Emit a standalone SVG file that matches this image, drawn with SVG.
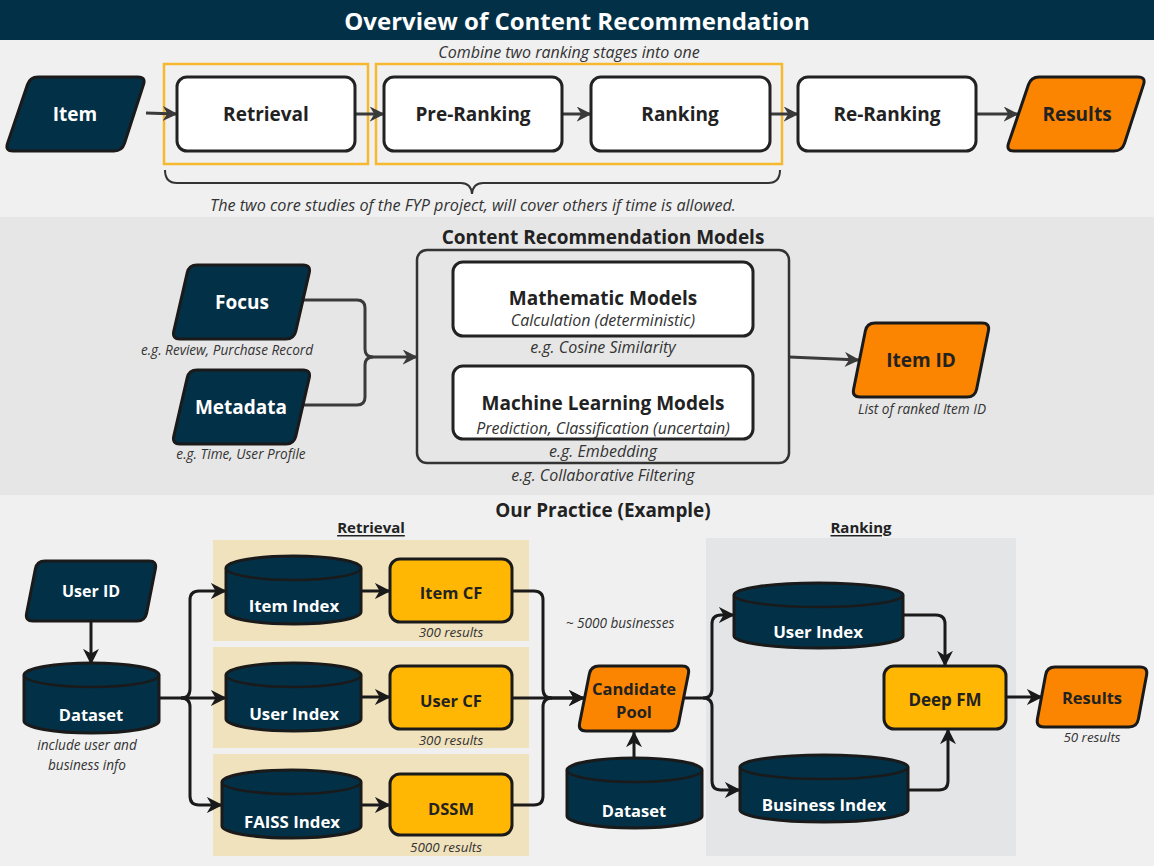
<svg xmlns="http://www.w3.org/2000/svg" width="1154" height="866" viewBox="0 0 1154 866">
<style>
text{font-family:"Open Sans","Liberation Sans",sans-serif;}
.t{font-weight:700;text-anchor:middle;dominant-baseline:central;}
.w{fill:#ffffff;}
.k{fill:#222222;}
.i{font-style:italic;text-anchor:middle;fill:#333333;dominant-baseline:central;}
.dark{fill:#023047;stroke:#1a1a1a;stroke-width:3;stroke-linejoin:round;}
.cyl{fill:#023047;stroke:#1a1a1a;stroke-width:3;stroke-linejoin:round;}
.cylE{fill:none;stroke:#1a1a1a;stroke-width:2.5;}
.org{fill:#fb8500;stroke:#1a1a1a;stroke-width:3;stroke-linejoin:round;}
.yel{fill:#ffb703;stroke:#1a1a1a;stroke-width:3;}
.wht{fill:#ffffff;stroke:#222222;stroke-width:3;}
.c1{fill:none;stroke:#3a3a3a;stroke-width:3;}
.c2{fill:none;stroke:#1a1a1a;stroke-width:3;}
</style>
<defs>
<marker id="a1" viewBox="0 0 10 10" refX="9.5" refY="5" markerWidth="15" markerHeight="15" markerUnits="userSpaceOnUse" orient="auto">
<path d="M0,0 L10,5 L0,10 L3,5 Z" fill="#3a3a3a"/>
</marker>
<marker id="a2" viewBox="0 0 10 10" refX="9.5" refY="5" markerWidth="16" markerHeight="16" markerUnits="userSpaceOnUse" orient="auto">
<path d="M0,0 L10,5 L0,10 L3,5 Z" fill="#1a1a1a"/>
</marker>
</defs>

<!-- backgrounds -->
<rect x="0" y="0" width="1154" height="866" fill="#f0f0f0"/>
<rect x="0" y="217" width="1154" height="278" fill="#e6e6e6"/>
<rect x="0" y="0" width="1154" height="40" fill="#023047"/>
<text x="577" y="20" class="t w" font-size="24">Overview of Content Recommendation</text>

<!-- section 1 annotations -->
<text x="569" y="52" class="i" font-size="16">Combine two ranking stages into one</text>
<rect x="164" y="64" width="204" height="100" fill="none" stroke="#f5b82e" stroke-width="2.5"/>
<rect x="376" y="64" width="406" height="100" fill="none" stroke="#f5b82e" stroke-width="2.5"/>
<path d="M165,170 Q165,183 177,183 L461,183 Q471,183 472,194 Q473,183 483,183 L768,183 Q780,183 780,170" fill="none" stroke="#333333" stroke-width="2"/>
<text x="473" y="205" class="i" font-size="16.2">The two core studies of the FYP project, will cover others if time is allowed.</text>

<!-- section 2 headings -->
<text x="603" y="237" class="t k" font-size="19">Content Recommendation Models</text>

<!-- section 3 headings and panels -->
<text x="603" y="510" class="t k" font-size="18.9">Our Practice (Example)</text>
<rect x="213" y="540" width="316" height="101" fill="#f0e2bd"/>
<rect x="213" y="647" width="316" height="101" fill="#f0e2bd"/>
<rect x="213" y="754" width="316" height="102" fill="#f0e2bd"/>
<rect x="706" y="538" width="310" height="318" fill="#e4e5e7"/>
<text x="371" y="527" class="t k" font-size="15" text-decoration="underline">Retrieval</text>
<text x="861" y="527" class="t k" font-size="15" text-decoration="underline">Ranking</text>

<!-- connectors -->
<g id="connectors">
<path class="c1" d="M146,113 L177,114" marker-end="url(#a1)"/>
<path class="c1" d="M355,114 L384,114" marker-end="url(#a1)"/>
<path class="c1" d="M562,114 L591,114" marker-end="url(#a1)"/>
<path class="c1" d="M770,114 L798,114" marker-end="url(#a1)"/>
<path class="c1" d="M976,114 L1018,114" marker-end="url(#a1)"/>
<path class="c1" d="M303,300 L357,300 Q365,300 365,308 L365,349 Q365,357 373,357 L417,357" marker-end="url(#a1)"/>
<path class="c1" d="M303,405 L357,405 Q365,405 365,397 L365,365 Q365,357 373,357"/>
<path class="c1" d="M789,357 L859,360" marker-end="url(#a1)"/>
<path class="c2" d="M91,621 L91,664" marker-end="url(#a2)"/>
<path class="c2" d="M159,698 L226,698" marker-end="url(#a2)"/>
<path class="c2" d="M181,698 Q190,698 190,689 L190,600 Q190,591 199,591 L226,591" marker-end="url(#a2)"/>
<path class="c2" d="M181,698 Q190,698 190,707 L190,796 Q190,805 199,805 L222,805" marker-end="url(#a2)"/>
<path class="c2" d="M361,591 L390,591" marker-end="url(#a2)"/>
<path class="c2" d="M361,697 L390,697" marker-end="url(#a2)"/>
<path class="c2" d="M361,805 L390,805" marker-end="url(#a2)"/>
<path class="c2" d="M512,591 L534,591 Q543,591 543,600 L543,689 Q543,698 552,698 L584,698" marker-end="url(#a2)"/>
<path class="c2" d="M512,698 L584,698" marker-end="url(#a2)"/>
<path class="c2" d="M512,805 L534,805 Q543,805 543,796 L543,707 Q543,698 552,698"/>
<path class="c2" d="M634,758 L634,732" marker-end="url(#a2)"/>
<path class="c2" d="M684,698 L703,698 Q712,698 712,689 L712,624 Q712,615 721,615 L734,615" marker-end="url(#a2)"/>
<path class="c2" d="M703,698 Q712,698 712,707 L712,781 Q712,790 721,790 L740,790" marker-end="url(#a2)"/>
<path class="c2" d="M903,615 L936,615 Q945,615 945,624 L945,666" marker-end="url(#a2)"/>
<path class="c2" d="M908,790 L939,790 Q948,790 948,781 L948,729" marker-end="url(#a2)"/>
<path class="c2" d="M1006,697 L1042,697" marker-end="url(#a2)"/>
</g>

<!-- top row nodes -->
<g id="item">
<path class="dark" d="M38,77 L138,77 Q146,77 143.5,84.6 L124.5,143.4 Q122,151 114,151 L13,151 Q5,151 7.5,143.4 L27.5,84.6 Q30,77 38,77 Z"/>
<text x="75" y="114" class="t w" font-size="19">Item</text>
</g>
<g id="retrieval">
<rect class="wht" x="177" y="77" width="178" height="74" rx="10"/>
<text x="266" y="114" class="t k" font-size="19">Retrieval</text>
</g>
<g id="pre-ranking">
<rect class="wht" x="384" y="77" width="178" height="74" rx="10"/>
<text x="473" y="114" class="t k" font-size="19">Pre-Ranking</text>
</g>
<g id="ranking">
<rect class="wht" x="591" y="77" width="179" height="74" rx="10"/>
<text x="680" y="114" class="t k" font-size="19">Ranking</text>
</g>
<g id="re-ranking">
<rect class="wht" x="798" y="77" width="178" height="74" rx="10"/>
<text x="887" y="114" class="t k" font-size="19">Re-Ranking</text>
</g>
<g id="results-top">
<path class="org" d="M1039,77 L1138,77 Q1146,77 1143.5,84.6 L1124.5,143.4 Q1122,151 1114,151 L1014,151 Q1006,151 1008.5,143.4 L1028.5,84.6 Q1031,77 1039,77 Z"/>
<text x="1077" y="114" class="t k" font-size="19">Results</text>
</g>

<!-- middle section nodes -->
<g id="focus">
<path class="dark" d="M197,265 L303,265 Q311,265 309.2,272.8 L295.8,331.2 Q294,339 286,339 L180,339 Q172,339 173.8,331.2 L187.2,272.8 Q189,265 197,265 Z"/>
<text x="242" y="302" class="t w" font-size="19">Focus</text>
<text x="227" y="349" class="i" font-size="13.6">e.g. Review, Purchase Record</text>
</g>
<g id="metadata">
<path class="dark" d="M197,370 L303,370 Q311,370 309.2,377.8 L295.8,436.2 Q294,444 286,444 L180,444 Q172,444 173.8,436.2 L187.2,377.8 Q189,370 197,370 Z"/>
<text x="241" y="407" class="t w" font-size="19">Metadata</text>
<text x="241" y="453" class="i" font-size="13.6">e.g. Time, User Profile</text>
</g>
<g id="models">
<rect x="417" y="250" width="372" height="213" rx="10" fill="none" stroke="#333333" stroke-width="2.5"/>
<g id="math-models">
<rect class="wht" x="453" y="262" width="300" height="74" rx="10"/>
<text x="603" y="298" class="t k" font-size="19">Mathematic Models</text>
<text x="603" y="320" class="i" font-size="16">Calculation (deterministic)</text>
<text x="603" y="347" class="i" font-size="16">e.g. Cosine Similarity</text>
</g>
<g id="ml-models">
<rect class="wht" x="453" y="366" width="300" height="73" rx="10"/>
<text x="603" y="403" class="t k" font-size="19">Machine Learning Models</text>
<text x="603" y="428" class="i" font-size="16">Prediction, Classification (uncertain)</text>
<text x="603" y="451" class="i" font-size="16">e.g. Embedding</text>
</g>
<text x="603" y="475" class="i" font-size="16">e.g. Collaborative Filtering</text>
</g>
<g id="item-id">
<path class="org" d="M875,323 L982,323 Q990,323 988.4,330.8 L976.6,389.2 Q975,397 967,397 L860,397 Q852,397 853.6,389.2 L865.4,330.8 Q867,323 875,323 Z"/>
<text x="921" y="360" class="t k" font-size="19">Item ID</text>
<text x="922" y="408" class="i" font-size="13.6">List of ranked Item ID</text>
</g>

<!-- bottom section nodes -->
<g id="user-id">
<path class="dark" d="M45,561 L149,561 Q157,561 155.4,568.8 L146.6,613.2 Q145,621 137,621 L33,621 Q25,621 26.6,613.2 L35.4,568.8 Q37,561 45,561 Z"/>
<text x="91" y="591" class="t w" font-size="16">User ID</text>
</g>
<g id="dataset-1">
<path class="cyl" d="M24,675 A67.5,12 0 0 1 159,675 L159,721 A67.5,12 0 0 1 24,721 Z"/>
<path class="cylE" d="M24,675 A67.5,12 0 0 0 159,675"/>
<text x="91" y="714" class="t w" font-size="16.5">Dataset</text>
<text x="87" y="744" class="i" font-size="13.6">include user and</text>
<text x="87" y="764" class="i" font-size="13.6">business info</text>
</g>
<g id="item-index">
<path class="cyl" d="M226,568 A67.5,12 0 0 1 361,568 L361,612 A67.5,12 0 0 1 226,612 Z"/>
<path class="cylE" d="M226,568 A67.5,12 0 0 0 361,568"/>
<text x="294" y="605" class="t w" font-size="16.8">Item Index</text>
</g>
<g id="user-index-r">
<path class="cyl" d="M226,675 A67.5,12 0 0 1 361,675 L361,719 A67.5,12 0 0 1 226,719 Z"/>
<path class="cylE" d="M226,675 A67.5,12 0 0 0 361,675"/>
<text x="294" y="713" class="t w" font-size="16.8">User Index</text>
</g>
<g id="faiss-index">
<path class="cyl" d="M222,782 A69.5,12 0 0 1 361,782 L361,826 A69.5,12 0 0 1 222,826 Z"/>
<path class="cylE" d="M222,782 A69.5,12 0 0 0 361,782"/>
<text x="292" y="821" class="t w" font-size="16.8">FAISS Index</text>
</g>
<g id="item-cf">
<rect class="yel" x="390" y="559" width="122" height="63" rx="10"/>
<text x="451" y="592" class="t k" font-size="16.5">Item CF</text>
<text x="451" y="632" class="i" font-size="13.4">300 results</text>
</g>
<g id="user-cf">
<rect class="yel" x="390" y="666" width="122" height="63" rx="10"/>
<text x="451" y="700" class="t k" font-size="16.5">User CF</text>
<text x="451" y="740" class="i" font-size="13.4">300 results</text>
</g>
<g id="dssm">
<rect class="yel" x="390" y="774" width="122" height="61" rx="10"/>
<text x="451" y="808" class="t k" font-size="16.5">DSSM</text>
<text x="446" y="847" class="i" font-size="13.4">5000 results</text>
</g>
<text x="620" y="622" class="i" font-size="13.6">~ 5000 businesses</text>
<g id="candidate-pool">
<path class="org" d="M599,666 L682,666 Q690,666 688.4,673.8 L678.6,723.2 Q677,731 669,731 L586,731 Q578,731 579.6,723.2 L589.4,673.8 Q591,666 599,666 Z"/>
<text x="634" y="688" class="t k" font-size="16.5">Candidate</text>
<text x="634" y="711" class="t k" font-size="16.5">Pool</text>
</g>
<g id="dataset-2">
<path class="cyl" d="M567,770 A67.5,12 0 0 1 702,770 L702,816 A67.5,12 0 0 1 567,816 Z"/>
<path class="cylE" d="M567,770 A67.5,12 0 0 0 702,770"/>
<text x="634" y="810" class="t w" font-size="16.5">Dataset</text>
</g>
<g id="user-index-k">
<path class="cyl" d="M734,595 A84.5,12 0 0 1 903,595 L903,636 A84.5,12 0 0 1 734,636 Z"/>
<path class="cylE" d="M734,595 A84.5,12 0 0 0 903,595"/>
<text x="818" y="631" class="t w" font-size="16.8">User Index</text>
</g>
<g id="business-index">
<path class="cyl" d="M740,767 A84,12 0 0 1 908,767 L908,810 A84,12 0 0 1 740,810 Z"/>
<path class="cylE" d="M740,767 A84,12 0 0 0 908,767"/>
<text x="824" y="804" class="t w" font-size="16.8">Business Index</text>
</g>
<g id="deep-fm">
<rect class="yel" x="884" y="666" width="122" height="63" rx="10"/>
<text x="945" y="699" class="t k" font-size="17">Deep FM</text>
</g>
<g id="results-bottom">
<path class="org" d="M1055,667 L1140,667 Q1148,667 1146.6,674.9 L1138.4,719.1 Q1137,727 1129,727 L1044,727 Q1036,727 1037.4,719.1 L1045.6,674.9 Q1047,667 1055,667 Z"/>
<text x="1092" y="697" class="t k" font-size="16.5">Results</text>
<text x="1092" y="737" class="i" font-size="13.4">50 results</text>
</g>
</svg>
